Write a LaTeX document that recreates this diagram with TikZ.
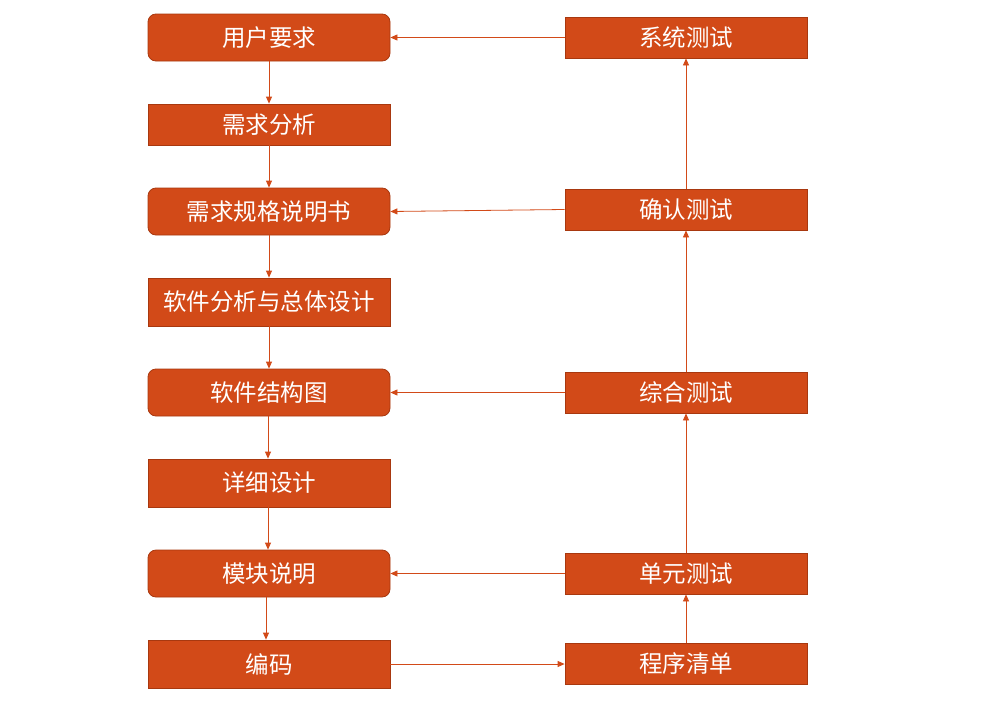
\documentclass[tikz,border=0pt]{standalone}
\usepackage{fontspec}
\newfontfamily\cjk{Noto Sans CJK SC}
\usetikzlibrary{arrows.meta}
\definecolor{boxfill}{HTML}{D24A18}
\definecolor{boxline}{HTML}{A8380F}
\definecolor{arrowc}{HTML}{D24A18}
\begin{document}
\begin{tikzpicture}[x=1pt,y=-1pt,
  stepbox/.style={draw=boxline,fill=boxfill,line width=0.8pt,inner sep=0pt,
    minimum width=242pt,text=white,font=\cjk\fontsize{23.5}{26}\selectfont},
  roundbox/.style={stepbox,rounded corners=8pt,minimum height=47pt},
  sqbox/.style={stepbox,minimum height=47pt},
  rbox/.style={stepbox,minimum height=41pt},
  conn/.style={draw=arrowc,line width=0.8pt,-{Triangle[length=7pt,width=6pt]}}]
\useasboundingbox (0,0) rectangle (993,704);
\node[roundbox] (a1) at (269,37.5) {用户要求};
\node[sqbox,minimum height=41pt] (a2) at (269,124.5) {需求分析};
\node[roundbox] (a3) at (269,211.5) {需求规格说明书};
\node[sqbox,minimum height=48pt] (a4) at (269,302) {软件分析与总体设计};
\node[roundbox] (a5) at (269,392.5) {软件结构图};
\node[sqbox,minimum height=48pt] (a6) at (269,483) {详细设计};
\node[roundbox] (a7) at (269,573.5) {模块说明};
\node[sqbox,minimum height=48pt] (a8) at (269,664) {编码};
\node[rbox] (b1) at (686,37.5) {系统测试};
\node[rbox] (b2) at (686,209.5) {确认测试};
\node[rbox] (b3) at (686,392.5) {综合测试};
\node[rbox] (b4) at (686,573.5) {单元测试};
\node[rbox] (b5) at (686,664) {程序清单};
\draw[conn] (a1.south) -- (a2.north);
\draw[conn] (a2.south) -- (a3.north);
\draw[conn] (a3.south) -- (a4.north);
\draw[conn] (a4.south) -- (a5.north);
\draw[conn] ([xshift=-1pt]a5.south) -- ([xshift=-1pt]a6.north);
\draw[conn] ([xshift=-1pt]a6.south) -- ([xshift=-1pt]a7.north);
\draw[conn] ([xshift=-3pt]a7.south) -- ([xshift=-3pt]a8.north);
\draw[conn] (a8.east) -- (b5.west);
\draw[conn] (b5.north) -- (b4.south);
\draw[conn] (b4.north) -- (b3.south);
\draw[conn] (b3.north) -- (b2.south);
\draw[conn] (b2.north) -- (b1.south);
\draw[conn] (b1.west) -- (a1.east);
\draw[conn] (b2.west) -- (a3.east);
\draw[conn] (b3.west) -- (a5.east);
\draw[conn] (b4.west) -- (a7.east);
\end{tikzpicture}
\end{document}
